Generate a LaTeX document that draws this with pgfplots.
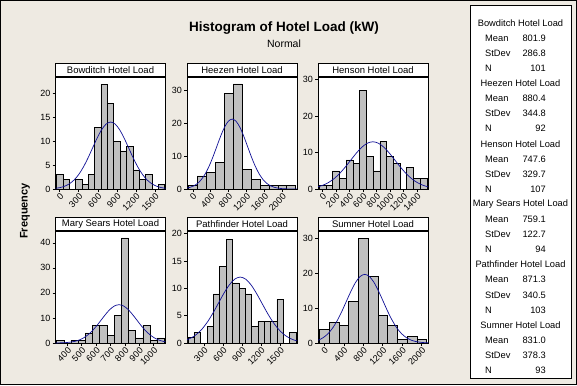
\documentclass[border=0pt]{standalone}
\usepackage{pgfplots}
\pgfplotsset{compat=1.18}
\usepackage{fontspec}
\setmainfont{Liberation Sans}
\definecolor{bgc}{RGB}{238,234,226}
\definecolor{barg}{RGB}{192,192,192}
\definecolor{curv}{RGB}{16,16,150}
\pgfplotsset{panel/.style={
  scale only axis, width=110pt, height=112pt,
  axis background/.style={fill=white},
  ymin=0, tick align=outside, xtick pos=left, ytick pos=left,
  major tick length=3pt,
  tick style={black, line width=0.5pt},
  axis line style={black, line width=0.6pt},
  every tick label/.append style={font=\fontsize{9}{10}\selectfont},
  xticklabel style={rotate=45, anchor=north east, inner sep=0.5pt},
  yticklabel style={inner sep=2pt},
  /pgf/number format/assume math mode=true,
  /pgf/number format/1000 sep={},
  scaled ticks=false},
  bars/.style={ybar, fill=barg, draw=black, line width=0.5pt},
  fit/.style={curv, line width=0.7pt, smooth, no markers}
}
\tikzset{strip/.style={draw=black, fill=white, line width=0.6pt, minimum width=110pt, minimum height=13pt, inner sep=0pt, anchor=south, font=\fontsize{9.5}{11}\selectfont}}
\begin{document}
\begin{tikzpicture}
\useasboundingbox (0pt,0pt) rectangle (577pt,385pt);
\fill[bgc] (0pt,0pt) rectangle (577pt,385pt);
\draw[black, line width=1pt] (0.5pt,0.5pt) rectangle (576.5pt,384.5pt);

\node[font=\fontsize{13.5}{15}\selectfont\bfseries] at (284pt,357pt) {Histogram of Hotel Load (kW)};
\node[font=\fontsize{10.5}{12}\selectfont] at (284pt,341pt) {Normal};
\node[font=\fontsize{11}{13}\selectfont\bfseries, rotate=90] at (25pt,174pt) {Frequency};

% Bowditch
\begin{axis}[panel, name=p1, at={(55.5pt,196pt)}, anchor=south west,
  xmin=-65, xmax=1665, ymax=23.5, xtick={0,300,...,1500}, ytick={0,5,...,20}]
\addplot[bars, bar width=100] coordinates {(0,3) (100,2) (300,2) (400,1) (500,3) (600,13) (700,22) (800,18) (900,10) (1000,8) (1100,9) (1200,4) (1300,2) (1400,3) (1600,1)};
\addplot[fit] coordinates {(-130.2,0.0715) (-58.5,0.1561) (13.2,0.3202) (84.9,0.6173) (156.6,1.1177) (228.3,1.9013) (300.0,3.0383) (371.7,4.5610) (443.4,6.4321) (515.1,8.5211) (586.8,10.6047) (658.5,12.3982) (730.2,13.6167) (801.9,14.049) (873.6,13.6167) (945.3,12.3982) (1017.0,10.6047) (1088.7,8.5211) (1160.4,6.4321) (1232.1,4.5610) (1303.8,3.0383) (1375.5,1.9013) (1447.2,1.1177) (1518.9,0.6173) (1590.6,0.3202) (1662.3,0.1561) (1734.0,0.0715)};
\end{axis}
\node[strip] at (p1.north) {Bowditch Hotel Load};

% Heezen
\begin{axis}[panel, name=p2, at={(187pt,196pt)}, anchor=south west,
  xmin=-130, xmax=2330, ymax=34.1, xtick={0,400,...,2000}, ytick={0,10,20,30}]
\addplot[bars, bar width=200] coordinates {(0,1) (200,4) (400,5) (600,8) (800,29) (1000,32) (1200,6) (1400,3) (1600,1) (1800,1) (2000,1) (2200,1)};
\addplot[fit] coordinates {(-154.0,0.2365) (-67.8,0.4853) (18.4,0.9354) (104.6,1.6938) (190.8,2.8811) (277.0,4.6041) (363.2,6.9115) (449.4,9.7468) (535.6,12.9124) (621.8,16.0698) (708.0,18.7875) (794.2,20.6340) (880.4,21.289) (966.6,20.634) (1052.8,18.7875) (1139.0,16.0698) (1225.2,12.9124) (1311.4,9.7468) (1397.6,6.9115) (1483.8,4.6041) (1570.0,2.8811) (1656.2,1.6938) (1742.4,0.9354) (1828.6,0.4853) (1914.8,0.2365) (2001.0,0.1083) (2087.2,0.0466) (2173.4,0.0188) (2259.6,0.0071) (2345.8,0.0025)};
\end{axis}
\node[strip] at (p2.north) {Heezen Hotel Load};

% Henson
\begin{axis}[panel, name=p3, at={(318pt,196pt)}, anchor=south west,
  xmin=-65, xmax=1565, ymax=30.7, xtick={0,200,...,1400}, ytick={0,10,20,30}]
\addplot[bars, bar width=100] coordinates {(0,1) (100,1) (200,5) (300,3) (400,8) (500,7) (600,27) (700,9) (800,5) (900,13) (1000,9) (1100,7) (1300,6) (1400,3) (1500,3)};
\addplot[fit] coordinates {(-159.1,0.2951) (-76.65,0.5689) (5.77,1.0301) (88.2,1.7522) (170.62,2.8000) (253.05,4.2033) (335.47,5.9276) (417.9,7.8528) (500.32,9.7729) (582.75,11.4257) (665.18,12.5487) (747.6,12.947) (830.03,12.5487) (912.45,11.4257) (994.88,9.7729) (1077.3,7.8528) (1159.73,5.9276) (1242.15,4.2033) (1324.58,2.8000) (1407.0,1.7522) (1489.43,1.0301) (1571.85,0.5689) (1654.28,0.2951)};
\end{axis}
\node[strip] at (p3.north) {Henson Hotel Load};

% Mary Sears
\begin{axis}[panel, name=p4, at={(55.5pt,42pt)}, anchor=south west,
  xmin=317.5, xmax=1082.5, ymax=44.7, xtick={400,500,...,1000}, ytick={0,10,...,40}]
\addplot[bars, bar width=50] coordinates {(350,1) (450,1) (500,1) (550,4) (600,7) (650,7) (700,3) (750,11) (800,42) (850,5) (900,2) (950,7) (1000,1) (1050,2)};
\addplot[fit] coordinates {(298.97,0.0135) (329.65,0.0334) (360.32,0.0777) (391.0,0.1698) (421.67,0.3483) (452.35,0.6714) (483.02,1.2158) (513.7,2.0681) (544.37,3.3048) (575.05,4.9611) (605.72,6.9962) (636.4,9.2684) (667.07,11.5347) (697.75,13.4854) (728.43,14.8110) (759.1,15.281) (789.78,14.811) (820.45,13.4854) (851.13,11.5347) (881.8,9.2684) (912.48,6.9962) (943.15,4.9611) (973.83,3.3048) (1004.5,2.0681) (1035.18,1.2158) (1065.85,0.6714) (1096.53,0.3483)};
\end{axis}
\node[strip] at (p4.north) {Mary Sears Hotel Load};

% Pathfinder
\begin{axis}[panel, name=p5, at={(187pt,42pt)}, anchor=south west,
  xmin=35, xmax=1765, ymax=20.5, xtick={300,600,...,1500}, ytick={0,5,...,20}]
\addplot[bars, bar width=100] coordinates {(100,1) (200,2) (400,3) (500,9) (600,14) (700,19) (800,11) (900,10) (1000,9) (1100,3) (1200,4) (1300,4) (1400,4) (1500,8) (1700,2)};
\addplot[fit] coordinates {(-65.08,0.2751) (20.05,0.5302) (105.17,0.9601) (190.3,1.6332) (275.42,2.6099) (360.55,3.9179) (445.67,5.5251) (530.8,7.3196) (615.92,9.1094) (701.05,10.6500) (786.17,11.6967) (871.3,12.068) (956.43,11.6967) (1041.55,10.65) (1126.68,9.1094) (1211.8,7.3196) (1296.93,5.5251) (1382.05,3.9179) (1467.18,2.6099) (1552.3,1.6332) (1637.43,0.9601) (1722.55,0.5302) (1807.68,0.2751)};
\end{axis}
\node[strip] at (p5.north) {Pathfinder Hotel Load};

% Sumner
\begin{axis}[panel, name=p6, at={(318pt,42pt)}, anchor=south west,
  xmin=-130, xmax=2130, ymax=32, xtick={0,400,...,2000}, ytick={0,10,20,30}]
\addplot[bars, bar width=200] coordinates {(0,4) (200,6) (400,5) (600,12) (800,30) (1000,19) (1200,8) (1400,5) (1600,1) (1800,2) (2000,1)};
\addplot[fit] coordinates {(-209.33,0.4471) (-114.75,0.8618) (-20.18,1.5606) (74.4,2.6546) (168.97,4.2420) (263.55,6.3681) (358.12,8.9804) (452.7,11.8971) (547.27,14.8062) (641.85,17.3102) (736.43,19.0115) (831.0,19.615) (925.58,19.0115) (1020.15,17.3102) (1114.73,14.8062) (1209.3,11.8971) (1303.88,8.9804) (1398.45,6.3681) (1493.03,4.2420) (1587.6,2.6546) (1682.18,1.5606) (1776.75,0.8618) (1871.33,0.4471) (1965.9,0.2179) (2060.48,0.0998) (2155.05,0.0429)};
\end{axis}
\node[strip] at (p6.north) {Sumner Hotel Load};

% legend box
\draw[black, fill=white, line width=0.6pt] (470.5pt,7pt) rectangle (571pt,380pt);
\begin{scope}[every node/.style={font=\fontsize{9.3}{11}\selectfont, inner sep=0pt}]
\foreach \nm/\mn/\sd/\n [count=\i from 0] in {
  Bowditch Hotel Load/801.9/286.8/101,
  Heezen Hotel Load/880.4/344.8/92,
  Henson Hotel Load/747.6/329.7/107,
  Mary Sears Hotel Load/759.1/122.7/94,
  Pathfinder Hotel Load/871.3/340.5/103,
  Sumner Hotel Load/831.0/378.3/93}{
  \pgfmathsetmacro{\yy}{385-23-\i*60.4}
  \node at (520.5pt,\yy pt) {\nm};
  \node[anchor=west] at (485pt,\yy pt-15.1pt) {Mean};
  \node[anchor=east] at (546pt,\yy pt-15.1pt) {\mn};
  \node[anchor=west] at (485pt,\yy pt-30.2pt) {StDev};
  \node[anchor=east] at (546pt,\yy pt-30.2pt) {\sd};
  \node[anchor=west] at (485pt,\yy pt-45.3pt) {N};
  \node[anchor=east] at (546pt,\yy pt-45.3pt) {\n};
}
\end{scope}
\end{tikzpicture}
\end{document}
